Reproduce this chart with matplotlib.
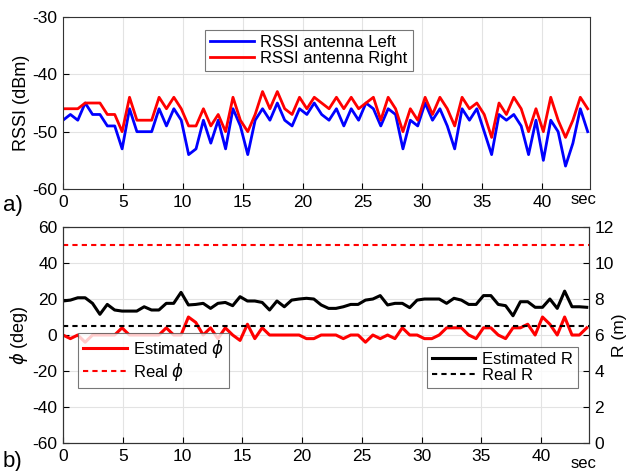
import numpy as np
import matplotlib
matplotlib.use("Agg")
import matplotlib.pyplot as plt

plt.rcParams['font.family'] = ['Liberation Sans', 'DejaVu Sans']
plt.rcParams['mathtext.fontset'] = 'dejavusans'
plt.rcParams['axes.unicode_minus'] = False

# sampling period (s)
dt = 0.617

rssi_left = [-48, -47, -48, -45, -47, -47, -49, -49, -53, -46, -50, -50, -50, -46, -49, -46, -48, -54,
             -53, -48, -52, -48, -53, -46, -49, -54, -48, -46, -48, -45, -48, -49, -46, -47, -45, -47,
             -48, -46, -49, -46, -48, -45, -46, -49, -46, -47, -53, -48, -49, -45, -48, -46, -49, -53,
             -46, -48, -46, -50, -54, -47, -48, -47, -49, -54, -48, -55, -48, -50, -56, -52, -46, -50]
rssi_right = [-46, -46, -46, -45, -45, -45, -47, -47, -50, -44, -48, -48, -48, -44, -46, -44, -46, -49,
              -49, -46, -49, -47, -50, -44, -48, -50, -47, -43, -46, -43, -46, -47, -44, -46, -44, -45,
              -46, -44, -46, -44, -46, -45, -44, -48, -44, -46, -50, -46, -48, -44, -47, -44, -46, -49,
              -44, -46, -45, -47, -51, -45, -47, -44, -46, -50, -46, -50, -44, -48, -51, -48, -44, -46]
phi_est = [0, -2, 0, -4, 0, 0, 0, 0, 4, 0, 0, 0, 0, 0, 4, 0, 0, 10,
           7, 0, 4, -2, 4, 0, -3, 6, -2, 4, 0, 0, 0, 0, 0, -2, -2, 0,
           0, 0, -2, 0, 0, -4, 0, -2, 0, -2, 4, 0, 0, -2, -2, 0, 4, 4,
           4, 0, -2, 4, 4, 0, -2, 4, 4, 6, 0, 10, 6, 0, 10, 0, 0, 4]
r_est = [7.89, 7.94, 8.07, 8.07, 7.76, 7.15, 7.70, 7.39, 7.33, 7.33, 7.33, 7.57, 7.39, 7.39, 7.76, 7.76, 8.37, 7.67,
         7.70, 7.76, 7.48, 7.76, 7.81, 7.63, 8.13, 7.89, 7.89, 7.81, 7.39, 7.89, 7.57, 7.94, 8.0, 8.04, 8.0, 7.67,
         7.48, 7.48, 7.57, 7.70, 7.70, 7.94, 8.0, 8.19, 7.67, 7.76, 7.76, 7.52, 7.94, 8.0, 8.0, 8.0, 7.76, 8.04,
         7.94, 7.70, 7.70, 8.19, 8.19, 7.70, 7.63, 7.07, 7.85, 7.85, 7.54, 7.54, 8.0, 7.48, 8.44, 7.57, 7.57, 7.54]
phi_real = 50
r_real = 6.5

t = np.arange(len(rssi_left)) * dt

fs = 12.5
lfs = 12
legkw = dict(frameon=True, fancybox=False, edgecolor='#555555', handlelength=2.6,
             borderpad=0.3, labelspacing=0.05, handletextpad=0.4, borderaxespad=0)

fig = plt.figure(figsize=(6.27, 4.71), dpi=100)
ax1 = fig.add_axes([0.1005, 0.5987, 0.8405, 0.3652])
ax1.plot(t, rssi_left, color=(0, 0, 1), lw=2, label='RSSI antenna Left')
ax1.plot(t, rssi_right, color=(1, 0, 0), lw=2, label='RSSI antenna Right')
ax1.set_xlim(0, 44)
ax1.set_ylim(-60, -30)
ax1.set_xticks(np.arange(0, 45, 5))
ax1.set_yticks([-60, -50, -40, -30])
ax1.set_ylabel('RSSI (dBm)', fontsize=13, labelpad=2)
ax1.grid(True, color='#e3e3e3', lw=0.8)
ax1.tick_params(direction='in', labelsize=fs, length=4, pad=4)
leg1 = ax1.legend(loc='upper left', bbox_to_anchor=(0.27, 0.925), fontsize=lfs, **legkw)
leg1.get_frame().set_linewidth(0.8)

ax2 = fig.add_axes([0.1005, 0.0594, 0.839, 0.4586])
ax2.plot(t, phi_est, color=(1, 0, 0), lw=2.2, label=r'Estimated $\phi$')
ax2.axhline(phi_real, color=(1, 0, 0), lw=1.5, ls=(0, (2.5, 2)), label=r'Real $\phi$')
ax2.set_xlim(0, 44)
ax2.set_ylim(-60, 60)
ax2.set_xticks(np.arange(0, 45, 5))
ax2.set_yticks(np.arange(-60, 61, 20))
ax2.set_ylabel(r'$\phi$ (deg)', fontsize=13, labelpad=2)
ax2.grid(True, color='#e3e3e3', lw=0.8)
ax2.tick_params(direction='in', labelsize=fs, length=4, pad=4)
leg2 = ax2.legend(loc='lower left', bbox_to_anchor=(0.029, 0.255), fontsize=lfs, **legkw)
leg2.get_frame().set_linewidth(0.8)

ax3 = ax2.twinx()
ax3.plot(t, r_est, color='black', lw=2.2, label='Estimated R')
ax3.axhline(r_real, color='black', lw=1.5, ls=(0, (2.5, 2)), label='Real R')
ax3.set_ylim(0, 12)
ax3.set_yticks(np.arange(0, 13, 2))
ax3.set_ylabel('R (m)', fontsize=12.5, rotation=90, va='center', ha='center')
ax3.yaxis.set_label_coords(1.058, 0.5)
ax3.tick_params(direction='in', labelsize=fs, length=4, pad=4)
leg3 = ax3.legend(loc='lower right', bbox_to_anchor=(0.979, 0.255), fontsize=lfs, **legkw)
leg3.get_frame().set_linewidth(0.8)

for ax in (ax1, ax2, ax3):
    for s in ax.spines.values():
        s.set_color('#333333')

fig.text(571 / 627, 1 - 200 / 471, 'sec', fontsize=12, ha='left', va='center')
fig.text(571 / 627, 1 - 463 / 471, 'sec', fontsize=12, ha='left', va='center')
fig.text(3 / 627, 1 - 206 / 471, 'a)', fontsize=16, ha='left', va='center')
fig.text(3 / 627, 1 - 461 / 471, 'b)', fontsize=16, ha='left', va='center')

fig.savefig('out.png', dpi=100)
